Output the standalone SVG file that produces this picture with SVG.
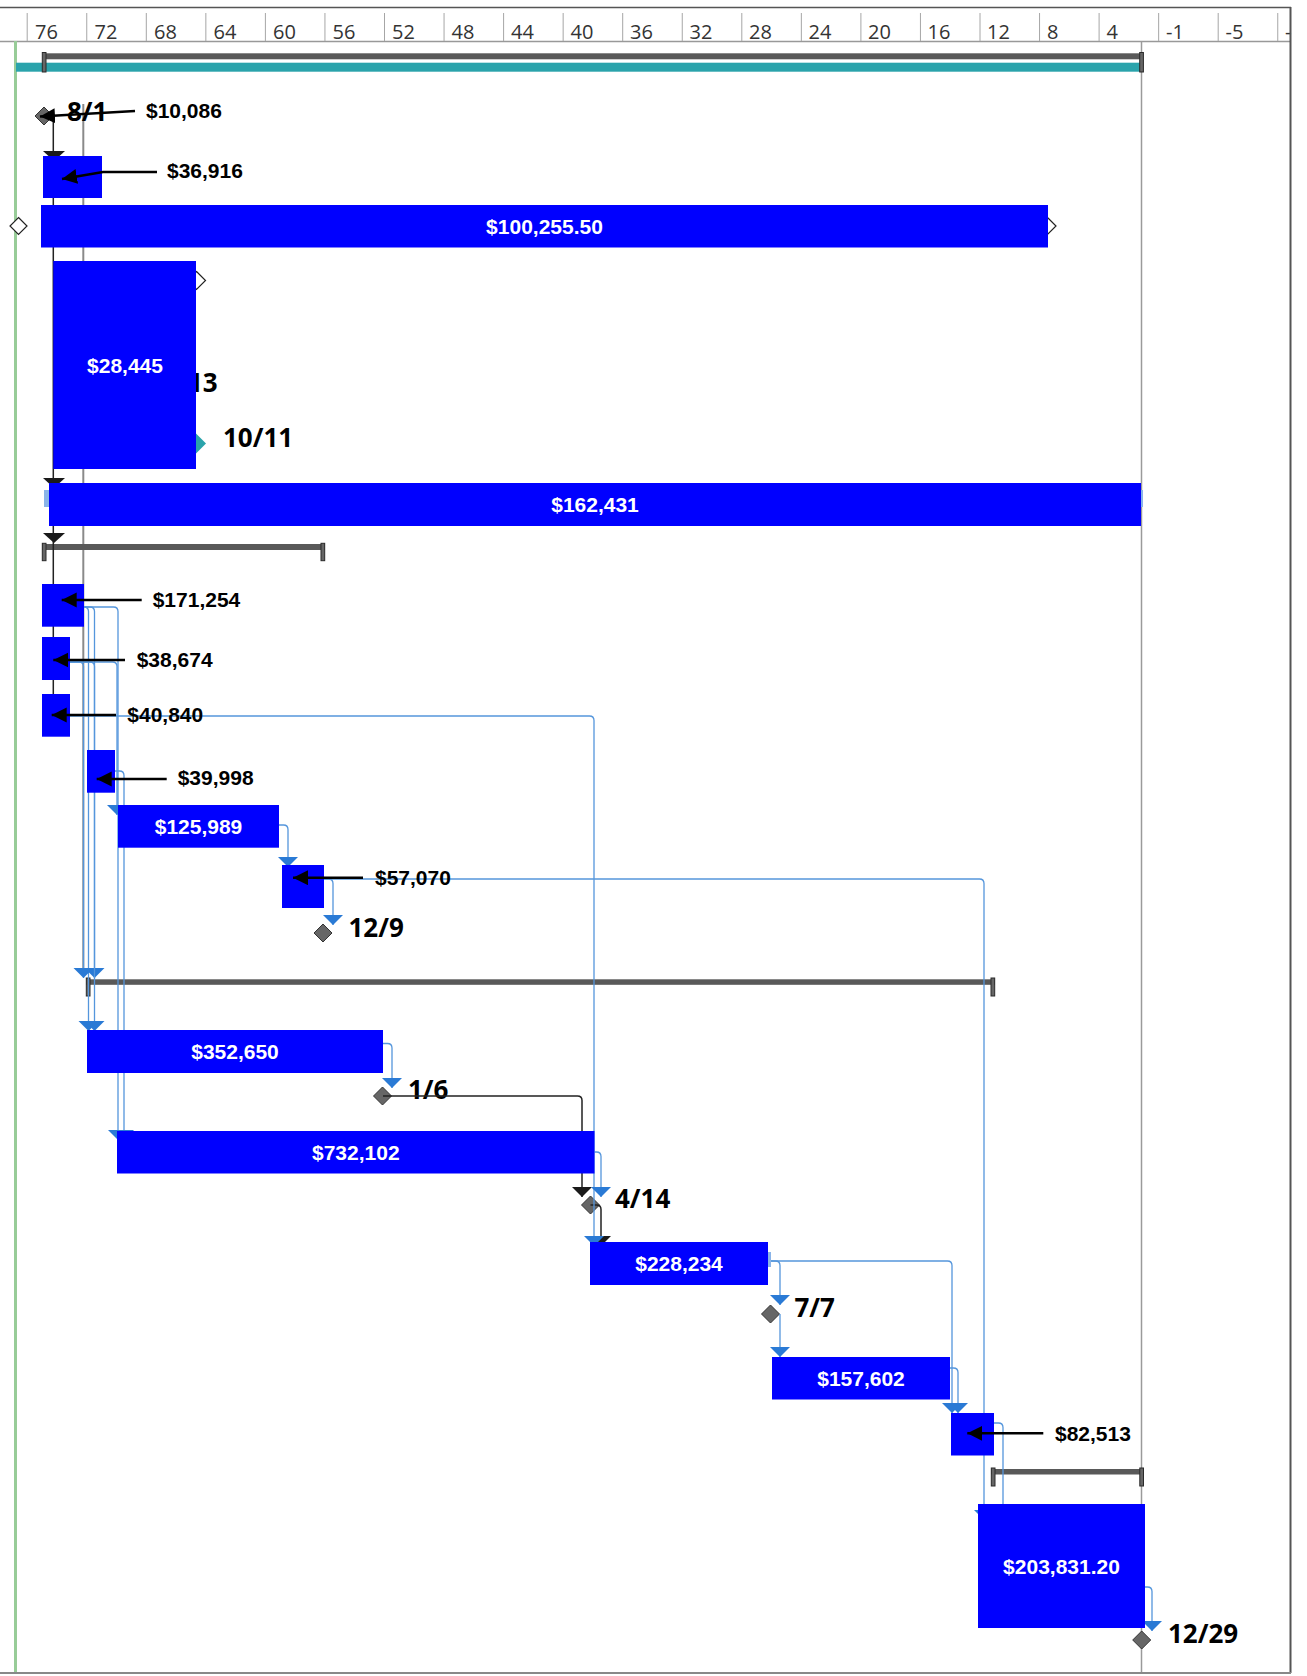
<svg xmlns="http://www.w3.org/2000/svg" width="1307" height="1676" viewBox="0 0 1307 1676">
<style>
.tick{stroke:#a6a6a6;stroke-width:1}
.hl{font-family:"Open Sans","Noto Sans",sans-serif;font-size:20px;fill:#333}
.bar{fill:#0000ff}
.bt{font-family:"Liberation Sans",Arial,sans-serif;font-weight:bold;font-size:21px;fill:#fff;text-anchor:middle}
.vl{font-family:"Liberation Sans",Arial,sans-serif;font-weight:bold;font-size:21px;fill:#000}
.ml{font-family:"Open Sans","Noto Sans",sans-serif;font-weight:bold;font-size:26px;fill:#000}
.dm{fill:#666;stroke:#333;stroke-width:1}
.od{fill:#fff;stroke:#222;stroke-width:1.2}
.sb{fill:#595959}
.cap{fill:#666;stroke:#2a2a2a;stroke-width:1}
.bc{fill:none;stroke:#5596dc;stroke-width:1.3;marker-end:url(#mb)}
.bn{fill:none;stroke:#5596dc;stroke-width:1.3}
.kc{fill:none;stroke:#222;stroke-width:1.5}
.km{fill:none;stroke:#222;stroke-width:1.5;marker-end:url(#mk)}
.ka{fill:#1a1a1a}
.co{fill:none;stroke:#000;stroke-width:2.6;marker-end:url(#ma)}
.lb{fill:#8ab4e8}
</style>
<defs>
<marker id="ma" markerUnits="userSpaceOnUse" markerWidth="16" markerHeight="16" viewBox="0 0 16 16" refX="15" refY="7.5" orient="auto"><path d="M0,0 L15,7.5 L0,15 Z" fill="#000"/></marker>
<marker id="mb" markerUnits="userSpaceOnUse" markerWidth="11" markerHeight="21" viewBox="0 0 11 21" refX="10" refY="10" orient="auto"><path d="M0,0 L10,10 L0,20 Z" fill="#2a7ad5"/></marker>
<marker id="mk" markerUnits="userSpaceOnUse" markerWidth="11" markerHeight="21" viewBox="0 0 11 21" refX="10" refY="10" orient="auto"><path d="M0,0 L10,10 L0,20 Z" fill="#1a1a1a"/></marker>
</defs>
<rect x="0" y="0" width="1307" height="1676" fill="#fff"/>

<g id="header">
<line x1="0" y1="7.5" x2="1291" y2="7.5" stroke="#555" stroke-width="1.5"/>
<line x1="0" y1="41.5" x2="1291" y2="41.5" stroke="#999" stroke-width="1.5"/>
<line class="tick" x1="27.2" y1="13" x2="27.2" y2="41"/>
<line class="tick" x1="86.75" y1="13" x2="86.75" y2="41"/>
<line class="tick" x1="146.3" y1="13" x2="146.3" y2="41"/>
<line class="tick" x1="205.85" y1="13" x2="205.85" y2="41"/>
<line class="tick" x1="265.4" y1="13" x2="265.4" y2="41"/>
<line class="tick" x1="324.95" y1="13" x2="324.95" y2="41"/>
<line class="tick" x1="384.5" y1="13" x2="384.5" y2="41"/>
<line class="tick" x1="444.05" y1="13" x2="444.05" y2="41"/>
<line class="tick" x1="503.6" y1="13" x2="503.6" y2="41"/>
<line class="tick" x1="563.15" y1="13" x2="563.15" y2="41"/>
<line class="tick" x1="622.7" y1="13" x2="622.7" y2="41"/>
<line class="tick" x1="682.25" y1="13" x2="682.25" y2="41"/>
<line class="tick" x1="741.8" y1="13" x2="741.8" y2="41"/>
<line class="tick" x1="801.35" y1="13" x2="801.35" y2="41"/>
<line class="tick" x1="860.9" y1="13" x2="860.9" y2="41"/>
<line class="tick" x1="920.45" y1="13" x2="920.45" y2="41"/>
<line class="tick" x1="980" y1="13" x2="980" y2="41"/>
<line class="tick" x1="1039.55" y1="13" x2="1039.55" y2="41"/>
<line class="tick" x1="1099.1" y1="13" x2="1099.1" y2="41"/>
<line class="tick" x1="1158.65" y1="13" x2="1158.65" y2="41"/>
<line class="tick" x1="1218.2" y1="13" x2="1218.2" y2="41"/>
<line class="tick" x1="1277.75" y1="13" x2="1277.75" y2="41"/>
<text class="hl" x="35" y="38.5">76</text>
<text class="hl" x="94.5" y="38.5">72</text>
<text class="hl" x="154" y="38.5">68</text>
<text class="hl" x="213.5" y="38.5">64</text>
<text class="hl" x="273" y="38.5">60</text>
<text class="hl" x="332.5" y="38.5">56</text>
<text class="hl" x="392" y="38.5">52</text>
<text class="hl" x="451.5" y="38.5">48</text>
<text class="hl" x="511" y="38.5">44</text>
<text class="hl" x="570.5" y="38.5">40</text>
<text class="hl" x="630" y="38.5">36</text>
<text class="hl" x="689.5" y="38.5">32</text>
<text class="hl" x="749" y="38.5">28</text>
<text class="hl" x="808.5" y="38.5">24</text>
<text class="hl" x="868" y="38.5">20</text>
<text class="hl" x="927.5" y="38.5">16</text>
<text class="hl" x="987" y="38.5">12</text>
<text class="hl" x="1047" y="38.5">8</text>
<text class="hl" x="1106.5" y="38.5">4</text>
<text class="hl" x="1166" y="38.5">-1</text>
<text class="hl" x="1225.5" y="38.5">-5</text>
<text class="hl" x="1285" y="38.5">-</text>
</g>

<g id="grid">
<line x1="15.5" y1="41" x2="15.5" y2="1673" stroke="#98cc98" stroke-width="3"/>
<line x1="1141.5" y1="41" x2="1141.5" y2="1673" stroke="#9a9a9a" stroke-width="1.5"/>
<line x1="83.3" y1="104" x2="83.3" y2="968" stroke="#8a8a8a" stroke-width="2"/>
<line x1="1290.5" y1="7" x2="1290.5" y2="1673" stroke="#555" stroke-width="2"/>
<line x1="0" y1="1673" x2="1291" y2="1673" stroke="#888" stroke-width="2"/>
</g>

<g id="summary-top">
<rect class="sb" x="43" y="53.3" width="1100" height="6"/>
<rect x="16" y="62.7" width="1127" height="9" fill="#2aa3ab"/>
<rect class="cap" x="42.3" y="52.5" width="3.7" height="19.5"/>
<rect class="cap" x="1139.7" y="52.5" width="3.7" height="19.5"/>
</g>
<g id="summary-2">
<rect class="sb" x="42" y="544" width="283" height="6"/>
<rect class="cap" x="42.3" y="543.3" width="3.7" height="17.4"/>
<rect class="cap" x="321" y="543.3" width="3.7" height="17.4"/>
</g>
<g id="summary-3">
<rect class="sb" x="86" y="979.3" width="909" height="5.5"/>
<rect class="cap" x="86.3" y="978" width="3.7" height="18"/>
<rect class="cap" x="991" y="978" width="3.7" height="18"/>
</g>
<g id="summary-4">
<rect class="sb" x="991" y="1469" width="152.7" height="5.5"/>
<rect class="cap" x="991.3" y="1468" width="3.7" height="18"/>
<rect class="cap" x="1139.8" y="1468" width="3.7" height="18"/>
</g>

<g id="m-start">
<polygon class="od" points="18.5,217.5 27,226 18.5,234.5 10,226"/>
</g>
<g id="m-finish">
<polygon class="od" points="1048,218 1056,226 1048,234 1040,226"/>
</g>
<g id="m-open">
<polygon class="od" points="196.5,271.5 205.5,280.5 196.5,289.5 187.5,280.5"/>
</g>
<g id="m-13">
<text class="ml" x="188" y="391.5">13</text>
</g>
<g id="m-10-11">
<polygon points="196,433.5 206,443.5 196,453.5 186,443.5" fill="#2aa3ab"/>
<text class="ml" x="223" y="446.5">10/11</text>
</g>
<g id="m-12-9">
<polygon class="dm" points="323,924 332,933 323,942 314,933"/>
<text class="ml" x="348.5" y="936.5">12/9</text>
</g>
<g id="m-1-6">
<polygon class="dm" points="382.5,1087 391.5,1096 382.5,1105 373.5,1096"/>
<text class="ml" x="408" y="1099">1/6</text>
</g>
<g id="m-4-14">
<polygon class="dm" points="590.5,1196 599.5,1205 590.5,1214 581.5,1205"/>
<text class="ml" x="615" y="1208">4/14</text>
</g>
<g id="m-7-7">
<polygon class="dm" points="770.5,1305 779.5,1314 770.5,1323 761.5,1314"/>
<text class="ml" x="794.5" y="1316.5">7/7</text>
</g>
<g id="m-12-29">
<polygon class="dm" points="1141.7,1631 1150.7,1640 1141.7,1649 1132.7,1640"/>
<text class="ml" x="1168" y="1643">12/29</text>
</g>

<g id="connectors">
<path class="kc" d="M53.3,117 V694"/>
<polygon class="ka" points="43,151 65,151 54,161"/>
<polygon class="ka" points="43,478 65,478 54,488"/>
<polygon class="ka" points="43,533 65,533 54,543"/>
<path class="km" d="M383,1096 H577.5 q4.5,0 4.5,4.5 V1197"/>
<path class="km" d="M590.5,1205 H596.5 q4.5,0 4.5,4.5 V1246"/>
<path class="bc" d="M84,607 q4.5,0 4.5,4.5 V1031"/>
<path class="bc" d="M84,607 H90 q4.5,0 4.5,4.5 V978"/>
<path class="bc" d="M84,607 H113.5 q4.5,0 4.5,4.5 V1140"/>
<path class="bc" d="M70,662 H79 q4.5,0 4.5,4.5 V978"/>
<path class="bc" d="M70,662 H90 q4.5,0 4.5,4.5 V1031"/>
<path class="bc" d="M70,662 H112.5 q4.5,0 4.5,4.5 V815"/>
<path class="bc" d="M70,716 H589.5 q4.5,0 4.5,4.5 V1246"/>
<path class="bc" d="M115,771 H119.5 q4.5,0 4.5,4.5 V1140"/>
<path class="bc" d="M279,825 H283.5 q4.5,0 4.5,4.5 V867"/>
<path class="bc" d="M324,879 H328.5 q4.5,0 4.5,4.5 V925"/>
<path class="bc" d="M324,879 H979.5 q4.5,0 4.5,4.5 V1520"/>
<path class="bc" d="M382.7,1043.5 H387.5 q4.5,0 4.5,4.5 V1088"/>
<path class="bc" d="M594.5,1152 H596.5 q4.5,0 4.5,4.5 V1197"/>
<path class="bc" d="M768,1261 H775.5 q4.5,0 4.5,4.5 V1305"/>
<path class="bc" d="M780,1314 V1357"/>
<path class="bc" d="M768,1261 H947.5 q4.5,0 4.5,4.5 V1413"/>
<path class="bc" d="M950,1368 H953.5 q4.5,0 4.5,4.5 V1413"/>
<path class="bn" d="M994,1423 H998.5 q4.5,0 4.5,4.5 V1506"/>
<path class="bc" d="M1145,1587 H1147.5 q4.5,0 4.5,4.5 V1631"/>
</g>

<g id="m-8-1">
<polygon class="dm" points="44,107 53,116 44,125 35,116"/>
<text class="ml" x="67" y="121">8/1</text>
<line class="co" x1="135" y1="111" x2="40" y2="116.5"/>
<text class="vl" x="146" y="118">$10,086</text>
</g>
<g id="t-36916">
<rect class="bar" x="43" y="156" width="59" height="42"/>
<polyline class="co" points="157,172 103,172 62,179"/>
<text class="vl" x="167" y="178">$36,916</text>
</g>
<g id="t-100255">
<rect class="bar" x="41" y="205" width="1007" height="42.5"/>
<text class="bt" x="544.5" y="233.5">$100,255.50</text>
</g>
<g id="t-28445">
<rect class="bar" x="53.3" y="261" width="142.7" height="208"/>
<text class="bt" x="125" y="373">$28,445</text>
</g>
<g id="t-162431">
<rect class="lb" x="44" y="490" width="1099" height="17"/>
<rect class="bar" x="49" y="483" width="1092" height="43"/>
<text class="bt" x="595" y="511.5">$162,431</text>
</g>
<g id="t-171254">
<rect class="bar" x="42" y="584" width="42" height="42.7"/>
<line class="co" x1="141.7" y1="600" x2="61.7" y2="600"/>
<text class="vl" x="152.7" y="606.7">$171,254</text>
</g>
<g id="t-38674">
<rect class="bar" x="42" y="637" width="28" height="43"/>
<line class="co" x1="125" y1="660" x2="53.3" y2="660"/>
<text class="vl" x="136.7" y="666.7">$38,674</text>
</g>
<g id="t-40840">
<rect class="bar" x="42" y="694" width="28" height="42.7"/>
<line class="co" x1="116" y1="715" x2="51.7" y2="715"/>
<text class="vl" x="127.3" y="721.7">$40,840</text>
</g>
<g id="t-39998">
<rect class="bar" x="87" y="750" width="28" height="42.7"/>
<line class="co" x1="166.7" y1="779" x2="96.7" y2="779"/>
<text class="vl" x="177.7" y="785">$39,998</text>
</g>
<g id="t-125989">
<rect class="bar" x="118" y="805" width="161" height="42.7"/>
<text class="bt" x="198.5" y="833.5">$125,989</text>
</g>
<g id="t-57070">
<rect class="bar" x="282" y="865" width="42" height="43"/>
<line class="co" x1="363" y1="877.7" x2="293" y2="877.7"/>
<text class="vl" x="375" y="885">$57,070</text>
</g>
<g id="t-352650">
<rect class="bar" x="87" y="1030" width="296" height="43"/>
<text class="bt" x="235" y="1059">$352,650</text>
</g>
<g id="t-732102">
<rect class="bar" x="117" y="1131" width="477.5" height="42.5"/>
<text class="bt" x="355.8" y="1160">$732,102</text>
</g>
<g id="t-228234">
<rect class="lb" x="590" y="1252" width="181" height="15"/>
<rect class="bar" x="590" y="1242" width="178" height="43"/>
<text class="bt" x="679" y="1271">$228,234</text>
</g>
<g id="t-157602">
<rect class="bar" x="772" y="1357" width="178" height="42.5"/>
<text class="bt" x="861" y="1386">$157,602</text>
</g>
<g id="t-82513">
<rect class="bar" x="951" y="1413" width="43" height="42.5"/>
<line class="co" x1="1043.3" y1="1433.3" x2="967.3" y2="1433.3"/>
<text class="vl" x="1055" y="1440.7">$82,513</text>
</g>
<g id="t-203831">
<rect class="bar" x="978" y="1504" width="167" height="124"/>
<text class="bt" x="1061.5" y="1573.5">$203,831.20</text>
</g>
</svg>
